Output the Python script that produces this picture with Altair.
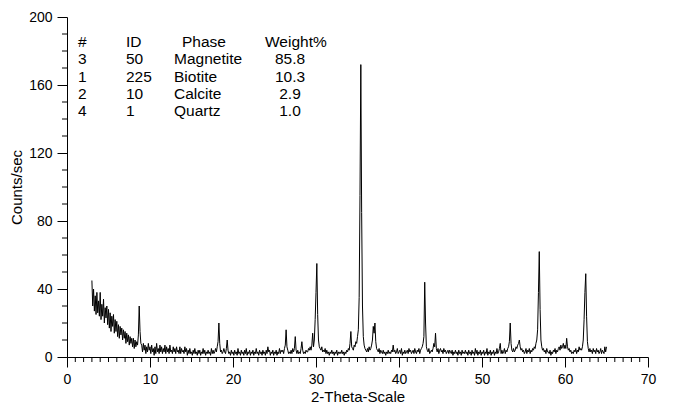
import altair as alt
import pandas as pd

# ---------------- data ----------------
start_angle = 3.0
step = 0.1
# counts/sec, one row per degree (x.0 ... x.9), from 3.0 to 65.0 deg
counts_rows = [
    [45, 30, 40, 27, 36, 25, 38, 26, 33, 24],   # 3
    [38, 22, 31, 24, 34, 20, 29, 23, 30, 19],   # 4
    [28, 17, 26, 15, 24, 18, 25, 14, 22, 15],   # 5
    [21, 12, 19, 11, 18, 13, 17, 10, 16, 11],   # 6
    [15, 8, 14, 9, 13, 7, 12, 8, 11, 6],        # 7
    [11, 5, 10, 6, 9, 7, 13, 30, 15, 8],        # 8
    [7, 3, 8, 4, 7, 2, 6, 3, 8, 4],             # 9
    [6, 2, 7, 3, 5, 1, 6, 2, 8, 3],             # 10
    [5, 2, 7, 3, 6, 2, 5, 3, 7, 2],             # 11
    [6, 3, 5, 2, 7, 3, 4, 2, 6, 3],             # 12
    [5, 2, 6, 3, 4, 2, 6, 2, 5, 3],             # 13
    [4, 2, 6, 3, 5, 1, 4, 2, 5, 2],             # 14
    [3, 1, 4, 2, 5, 2, 3, 1, 4, 2],             # 15
    [4, 1, 3, 2, 5, 2, 4, 1, 3, 2],             # 16
    [4, 2, 3, 1, 5, 2, 4, 2, 3, 5],             # 17
    [3, 6, 9, 20, 8, 3, 4, 2, 3, 5],            # 18
    [3, 2, 5, 10, 4, 2, 3, 1, 4, 2],            # 19
    [3, 1, 4, 2, 3, 1, 5, 2, 3, 1],             # 20
    [4, 2, 3, 1, 4, 2, 5, 1, 3, 2],             # 21
    [4, 1, 3, 2, 4, 1, 3, 2, 5, 2],             # 22
    [3, 1, 4, 2, 3, 1, 4, 2, 3, 1],             # 23
    [4, 2, 6, 3, 4, 1, 3, 2, 4, 1],             # 24
    [3, 2, 4, 1, 3, 2, 5, 2, 4, 3],             # 25
    [4, 2, 5, 7, 16, 6, 4, 2, 3, 2],            # 26
    [4, 2, 5, 3, 5, 12, 4, 2, 4, 2],            # 27
    [3, 2, 5, 9, 4, 2, 3, 2, 4, 3],             # 28
    [3, 5, 4, 6, 4, 7, 14, 6, 10, 22],          # 29
    [38, 55, 25, 10, 6, 5, 4, 6, 3, 4],         # 30
    [3, 5, 2, 4, 2, 3, 1, 3, 2, 4],             # 31
    [2, 3, 1, 3, 2, 4, 1, 3, 2, 3],             # 32
    [2, 4, 2, 3, 1, 3, 2, 4, 3, 5],             # 33
    [4, 8, 15, 6, 5, 4, 7, 6, 9, 8],            # 34
    [12, 16, 35, 95, 172, 85, 30, 12, 7, 5],    # 35
    [4, 3, 5, 3, 6, 4, 5, 7, 10, 18],           # 36
    [14, 20, 9, 5, 4, 3, 5, 2, 4, 3],           # 37
    [2, 4, 2, 3, 1, 3, 2, 4, 2, 3],             # 38
    [2, 4, 3, 7, 3, 4, 2, 3, 5, 2],             # 39
    [3, 4, 2, 5, 1, 3, 2, 4, 2, 3],             # 40
    [4, 2, 5, 3, 4, 2, 3, 4, 2, 5],             # 41
    [3, 2, 4, 3, 5, 2, 4, 5, 6, 8],             # 42
    [12, 44, 20, 6, 4, 3, 5, 2, 3, 4],          # 43
    [3, 5, 8, 6, 14, 5, 3, 5, 2, 4],            # 44
    [5, 3, 4, 2, 5, 3, 4, 2, 3, 4],             # 45
    [2, 4, 3, 2, 4, 1, 3, 2, 4, 2],             # 46
    [3, 1, 4, 2, 3, 1, 4, 2, 3, 2],             # 47
    [4, 2, 3, 1, 4, 2, 3, 1, 4, 2],             # 48
    [3, 1, 5, 2, 4, 1, 3, 2, 4, 1],             # 49
    [3, 2, 4, 1, 3, 2, 5, 1, 3, 2],             # 50
    [4, 1, 3, 2, 4, 1, 3, 2, 5, 2],             # 51
    [3, 5, 8, 2, 4, 2, 3, 5, 2, 4],             # 52
    [3, 5, 6, 9, 20, 8, 4, 3, 5, 3],            # 53
    [4, 6, 5, 7, 8, 10, 6, 4, 5, 3],            # 54
    [4, 2, 3, 5, 2, 4, 3, 5, 2, 4],             # 55
    [3, 5, 4, 6, 5, 8, 10, 16, 38, 62],         # 56
    [28, 10, 6, 4, 5, 3, 4, 2, 5, 3],           # 57
    [3, 2, 4, 1, 3, 2, 4, 3, 5, 2],             # 58
    [4, 3, 5, 6, 4, 7, 5, 6, 8, 5],             # 59
    [7, 5, 11, 6, 4, 5, 3, 4, 2, 3],            # 60
    [2, 4, 3, 5, 2, 4, 3, 6, 4, 5],             # 61
    [4, 6, 10, 22, 38, 49, 24, 9, 5, 3],        # 62
    [5, 3, 4, 2, 5, 3, 4, 2, 5, 3],             # 63
    [4, 2, 3, 5, 2, 4, 3, 2, 6, 3],             # 64
    [6],                                        # 65
]

x_major = [0, 10, 20, 30, 40, 50, 60, 70]
y_major = [0, 40, 80, 120, 160, 200]

table_headers = ["#", "ID", "Phase", "Weight%"]
phase_no = ["3", "1", "2", "4"]
phase_id = ["50", "225", "10", "1"]
phase_name = ["Magnetite", "Biotite", "Calcite", "Quartz"]
weight_pct = ["85.8", "10.3", "2.9", "1.0"]

# ---------------- tables ----------------
counts = [v for row in counts_rows for v in row]
two_theta = [round(start_angle + step * i, 1) for i in range(len(counts))]
df = pd.DataFrame({"two_theta": two_theta, "counts": counts})

minor_x = pd.DataFrame({"two_theta": [v for v in range(0, 71) if v % 10 != 0]})
minor_y = pd.DataFrame({"v": [v for v in range(0, 201, 10) if v % 40 != 0]})

header_df = pd.DataFrame({"text": table_headers, "row": [0] * 4,
                          "col": [0, 1, 2, 3]})
body_df = pd.DataFrame({
    "row": [1, 2, 3, 4],
    "no": phase_no, "id": phase_id, "name": phase_name, "w": weight_pct,
})

FONT = "Liberation Sans"
W, H = 581, 340

xscale = alt.Scale(domain=[0, 70], nice=False, zero=False)
yscale = alt.Scale(domain=[0, 200], nice=False)
row_scale = alt.Scale(domain=[0, 1], range=[25, 42.25])

xaxis = alt.Axis(values=x_major, title="2-Theta-Scale", tickSize=10,
                 labelPadding=5, titlePadding=3, grid=False, labelFlush=False,
                 labelFontSize=14, titleFontSize=15)

line = alt.Chart(df).mark_line(color="black", strokeWidth=1.0, clip=True).encode(
    x=alt.X("two_theta:Q", scale=xscale, axis=xaxis),
    y=alt.Y("counts:Q", scale=yscale,
            axis=alt.Axis(values=y_major, title="Counts/sec", tickSize=10,
                          labelPadding=5, titlePadding=4, grid=False,
                          labelFlush=False,
                          labelFontSize=14, titleFontSize=15)),
)

mx = alt.Chart(minor_x).mark_rule(color="black", strokeWidth=1, clip=False).encode(
    x=alt.X("two_theta:Q", scale=xscale, axis=xaxis),
    y=alt.value(H), y2=alt.value(H + 5),
)
my = alt.Chart(minor_y).mark_rule(color="black", strokeWidth=1, clip=False).encode(
    y=alt.Y("v:Q", scale=yscale, axis=None),
    x=alt.value(-5), x2=alt.value(0),
)

txt = dict(font=FONT, fontSize=15.5, color="black", baseline="middle")
header_x = [11, 59, 115, 198]
hdr_layers = []
for i, h in enumerate(table_headers):
    hdr_layers.append(
        alt.Chart(header_df[header_df.col == i]).mark_text(align="left", **txt).encode(
            x=alt.value(header_x[i]),
            y=alt.Y("row:Q", scale=row_scale, axis=None),
            text="text:N",
        )
    )

def body(field, xpos, align):
    return alt.Chart(body_df).mark_text(align=align, **txt).encode(
        x=alt.value(xpos),
        y=alt.Y("row:Q", scale=row_scale, axis=None),
        text=f"{field}:N",
    )

body_layers = [body("no", 11, "left"), body("id", 59, "left"),
               body("name", 107, "left"), body("w", 223, "center")]

chart = alt.layer(line, mx, my, *hdr_layers, *body_layers).resolve_scale(
    y="independent"
).properties(
    width=W, height=H,
    autosize=alt.AutoSizeParams(type="none"),
    padding={"left": 59, "top": 9, "right": 10, "bottom": 50},
).configure_view(stroke=None).configure_axis(
    domainColor="black", tickColor="black", labelColor="black",
    titleColor="black", labelFont=FONT, titleFont=FONT,
    titleFontWeight="normal", domainWidth=1, tickWidth=1,
)

chart.save("out.html", embed_options={"renderer": "svg", "actions": False})
